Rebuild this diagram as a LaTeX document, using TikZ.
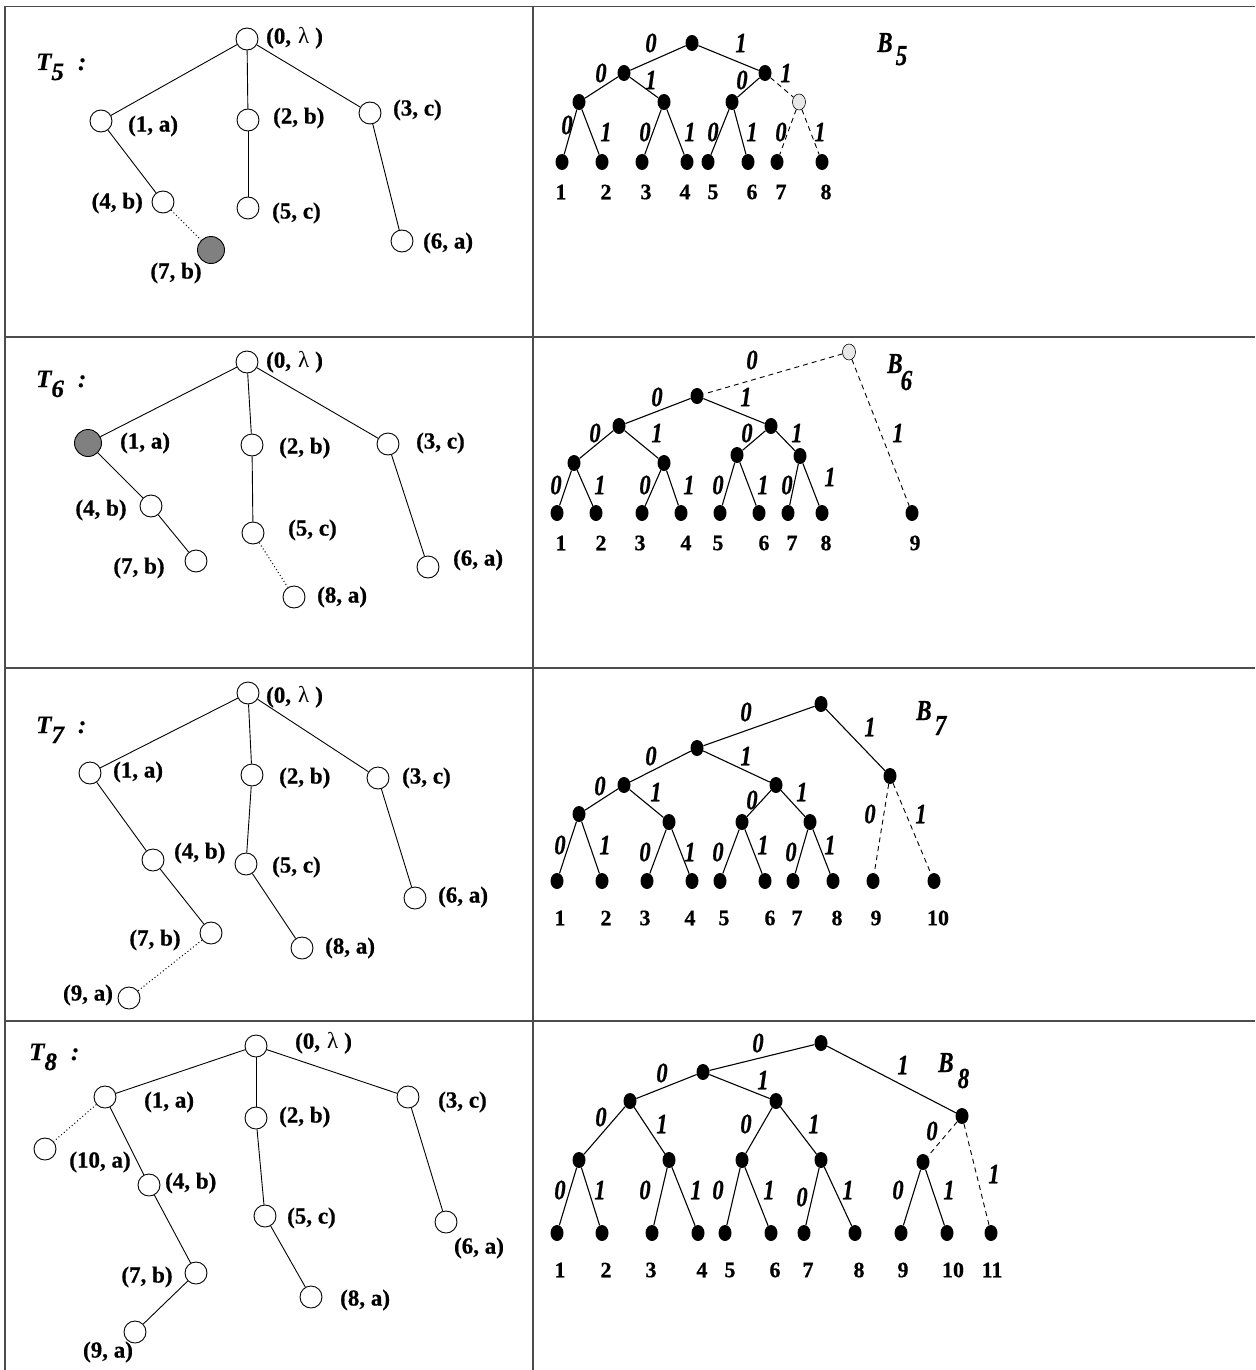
\documentclass[tikz,border=0pt]{standalone}
\usepackage{fontspec}
\setmainfont{Liberation Serif}
\newfontfamily\hvfont[FakeBold=0.6]{Liberation Serif}
\newfontfamily\chvfont[FakeBold=0.6,FakeStretch=0.8]{Liberation Serif}
\usetikzlibrary{shapes.geometric}
\newcommand{\nlabfont}{\hvfont\bfseries\fontsize{23}{26}\selectfont}
\newcommand{\llabfont}{\hvfont\bfseries\fontsize{22}{25}\selectfont}
\newcommand{\elabfont}{\chvfont\bfseries\itshape\fontsize{28}{31}\selectfont}
\newcommand{\tlabfont}{\hvfont\bfseries\itshape\fontsize{25}{29}\selectfont}
\newcommand{\blabfont}{\chvfont\bfseries\itshape\fontsize{29}{32}\selectfont}
\newcommand{\lam}{(0,\hspace{7pt}{\rmfamily\mdseries λ}\hspace{6pt})}
\tikzset{
  tn/.style={circle, draw, line width=0.9pt, minimum size=22pt, inner sep=0pt},
  tg/.style={tn, fill=black!50, minimum size=27pt},
  lab/.style={font=\nlabfont, inner sep=0pt},
  bn/.style={ellipse, fill=black, inner sep=0pt, minimum width=13pt, minimum height=16pt},
  gn/.style={bn, fill=gray!18, draw=black, line width=0.6pt},
  el/.style={font=\elabfont, inner sep=0pt},
  lf/.style={font=\llabfont, inner sep=0pt},
  tl/.style={font=\tlabfont, inner sep=0pt, anchor=base west},
  bl/.style={font=\blabfont, inner sep=0pt, anchor=base west},
  te/.style={line width=0.9pt},
  be/.style={line width=1.1pt},
  dsh/.style={line width=0.9pt, dash pattern=on 5pt off 4pt},
  dtd/.style={line width=1pt, dash pattern=on 1pt off 2.5pt},
  grid/.style={line width=1.6pt, draw=black!70}
}
\begin{document}
\begin{tikzpicture}[x=1pt,y=-1pt]
\useasboundingbox (0,0) rectangle (1255,1370);
% table
\draw[grid] (5,1370) -- (5,6.5) -- (1255,6.5);
\draw[grid] (533,6.5) -- (533,1370);
\draw[grid] (5,337) -- (1255,337);
\draw[grid] (5,668) -- (1255,668);
\draw[grid] (5,1021) -- (1255,1021);

% ================= T5 =================
\node[tl] (t5) at (36,70) {T\raisebox{-10pt}{5}\hspace{14pt}:};
\node[tn] (a0) at (247,39) {};
\node[tn] (a1) at (101,121) {};
\node[tn] (a2) at (248,120) {};
\node[tn] (a3) at (370,113) {};
\node[tn] (a4) at (163,202) {};
\node[tn] (a5) at (248,208) {};
\node[tn] (a6) at (402,241) {};
\node[tg] (a7) at (211,250) {};
\node[lab,anchor=west] (la0) at (266,38) {\lam};
\node[lab,anchor=west] (la1) at (128,126) {(1, a)};
\node[lab,anchor=west] (la2) at (273,118) {(2, b)};
\node[lab,anchor=west] (la3) at (393,110) {(3, c)};
\node[lab,anchor=east] (la4) at (143,203) {(4, b)};
\node[lab,anchor=west] (la5) at (272,213) {(5, c)};
\node[lab,anchor=west] (la6) at (423,243) {(6, a)};
\node[lab] (la7) at (176,273) {(7, b)};
\foreach \u/\v in {a0/a1,a0/a2,a0/a3,a1/a4,a2/a5,a3/a6} \draw[te] (\u) -- (\v);
\draw[dtd] (a4) -- (a7);

% ================= B5 =================
\node[bl] (b5) at (877,52) {B\kern3pt\raisebox{-13pt}{5}};
\node[bn] (p0) at (692,43) {};
\node[bn] (p1) at (624,73) {};
\node[bn] (p2) at (765,73) {};
\node[bn] (p3) at (579,102) {};
\node[bn] (p4) at (664,102) {};
\node[bn] (p5) at (732,102) {};
\node[gn] (p6) at (799,102) {};
\foreach \x [count=\i] in {562,602,642,687,708,748,777,822} \node[bn] (pl\i) at (\x,162) {};
\foreach \x [count=\i] in {561,606,646,685,713,752,781,826} \node[lf] (pn\i) at (\x,192) {\i};
\foreach \u/\v in {p0/p1,p0/p2,p1/p3,p1/p4,p2/p5,p3/pl1,p3/pl2,p4/pl3,p4/pl4,p5/pl5,p5/pl6} \draw[be] (\u) -- (\v);
\foreach \u/\v in {p2/p6,p6/pl7,p6/pl8} \draw[dsh] (\u) -- (\v);
\foreach \x/\y/\t [count=\i] in {651/43/0,741/43/1,601/73/0,651/80/1,742/80/0,786/73/1,567/125/0,606/132/1,645/132/0,690/132/1,713/132/0,752/132/1,781/132/0,820/132/1}
  \node[el] (pe\i) at (\x,\y) {\t};

% ================= T6 =================
\node[tl] (t6) at (36,387) {T\raisebox{-10pt}{6}\hspace{14pt}:};
\node[tn] (c0) at (247,362) {};
\node[tg] (c1) at (88,443) {};
\node[tn] (c2) at (252,445) {};
\node[tn] (c3) at (388,444) {};
\node[tn] (c4) at (151,506) {};
\node[tn] (c5) at (253,533) {};
\node[tn] (c6) at (428,567) {};
\node[tn] (c7) at (196,561) {};
\node[tn] (c8) at (294,597) {};
\node[lab,anchor=west] (lc0) at (266,362) {\lam};
\node[lab,anchor=west] (lc1) at (120,443) {(1, a)};
\node[lab,anchor=west] (lc2) at (279,448) {(2, b)};
\node[lab,anchor=west] (lc3) at (416,443) {(3, c)};
\node[lab] (lc4) at (101,510) {(4, b)};
\node[lab,anchor=west] (lc5) at (288,530) {(5, c)};
\node[lab,anchor=west] (lc6) at (453,560) {(6, a)};
\node[lab] (lc7) at (139,568) {(7, b)};
\node[lab,anchor=west] (lc8) at (317,597) {(8, a)};
\foreach \u/\v in {c0/c1,c0/c2,c0/c3,c1/c4,c4/c7,c2/c5,c3/c6} \draw[te] (\u) -- (\v);
\draw[dtd] (c5) -- (c8);

% ================= B6 =================
\node[bl] (b6) at (887,373) {B\kern-2pt\raisebox{-17pt}{6}};
\node[gn] (q0) at (849,352) {};
\node[bn] (q1) at (697,396) {};
\node[bn] (q2) at (619,426) {};
\node[bn] (q3) at (771,426) {};
\node[bn] (q4) at (574,463) {};
\node[bn] (q5) at (664,463) {};
\node[bn] (q6) at (737,455) {};
\node[bn] (q7) at (800,456) {};
\foreach \x [count=\i] in {557,596,642,681,720,759,788,822,912} \node[bn] (ql\i) at (\x,513) {};
\foreach \x [count=\i] in {561,601,640,686,718,764,792,826,915} \node[lf] (qn\i) at (\x,543) {\i};
\foreach \u/\v in {q1/q2,q1/q3,q2/q4,q2/q5,q3/q6,q3/q7,q4/ql1,q4/ql2,q5/ql3,q5/ql4,q6/ql5,q6/ql6,q7/ql7,q7/ql8} \draw[be] (\u) -- (\v);
\foreach \u/\v in {q0/q1,q0/ql9} \draw[dsh] (\u) -- (\v);
\foreach \x/\y/\t [count=\i] in {752/360/0,657/397/0,746/397/1,595/433/0,657/433/1,747/433/0,797/433/1,898/433/1,556/485/0,600/485/1,645/485/0,689/485/1,718/485/0,763/485/1,787/485/0,830/477/1}
  \node[el] (qe\i) at (\x,\y) {\t};

% ================= T7 =================
\node[tl] (t7) at (36,733) {T\raisebox{-10pt}{7}\hspace{14pt}:};
\node[tn] (e0) at (248,693) {};
\node[tn] (e1) at (90,773) {};
\node[tn] (e2) at (252,775) {};
\node[tn] (e3) at (378,778) {};
\node[tn] (e4) at (153,860) {};
\node[tn] (e5) at (246,864) {};
\node[tn] (e6) at (415,898) {};
\node[tn] (e7) at (211,933) {};
\node[tn] (e8) at (302,948) {};
\node[tn] (e9) at (129,998) {};
\node[lab,anchor=west] (le0) at (266,697) {\lam};
\node[lab,anchor=west] (le1) at (113,772) {(1, a)};
\node[lab,anchor=west] (le2) at (279,778) {(2, b)};
\node[lab,anchor=west] (le3) at (402,778) {(3, c)};
\node[lab,anchor=west] (le4) at (174,853) {(4, b)};
\node[lab,anchor=west] (le5) at (272,867) {(5, c)};
\node[lab,anchor=west] (le6) at (438,897) {(6, a)};
\node[lab] (le7) at (155,940) {(7, b)};
\node[lab,anchor=west] (le8) at (325,948) {(8, a)};
\node[lab] (le9) at (88,995) {(9, a)};
\foreach \u/\v in {e0/e1,e0/e2,e0/e3,e1/e4,e4/e7,e2/e5,e5/e8,e3/e6} \draw[te] (\u) -- (\v);
\draw[dtd] (e7) -- (e9);

% ================= B7 =================
\node[bl] (b7) at (916,720) {B\kern3pt\raisebox{-15pt}{7}};
\node[bn] (r0) at (821,704) {};
\node[bn] (r1) at (697,748) {};
\node[bn] (r2) at (890,776) {};
\node[bn] (r3) at (624,785) {};
\node[bn] (r4) at (776,785) {};
\node[bn] (r5) at (579,814) {};
\node[bn] (r6) at (669,822) {};
\node[bn] (r7) at (742,822) {};
\node[bn] (r8) at (810,822) {};
\foreach \x [count=\i] in {557,602,647,692,720,765,793,833,873,934} \node[bn] (rl\i) at (\x,881) {};
\foreach \x [count=\i] in {560,606,645,690,724,770,797,837,876,938} \node[lf] (rn\i) at (\x,918) {\i};
\foreach \u/\v in {r0/r1,r0/r2,r1/r3,r1/r4,r3/r5,r3/r6,r4/r7,r4/r8,r5/rl1,r5/rl2,r6/rl3,r6/rl4,r7/rl5,r7/rl6,r8/rl7,r8/rl8} \draw[be] (\u) -- (\v);
\foreach \u/\v in {r2/rl9,r2/rl10} \draw[dsh] (\u) -- (\v);
\foreach \x/\y/\t [count=\i] in {746/712/0,870/727/1,651/756/0,746/756/1,600/786/0,656/792/1,752/800/0,802/792/1,870/814/0,921/814/1,560/845/0,605/845/1,645/852/0,690/852/1,718/852/0,763/845/1,791/852/0,830/845/1}
  \node[el] (re\i) at (\x,\y) {\t};

% ================= T8 =================
\node[tl] (t8) at (29,1060) {T\raisebox{-10pt}{8}\hspace{14pt}:};
\node[tn] (g0) at (256,1046) {};
\node[tn] (g1) at (105,1097) {};
\node[tn] (g2) at (256,1118) {};
\node[tn] (g3) at (408,1097) {};
\node[tn] (g10) at (45,1149) {};
\node[tn] (g4) at (149,1185) {};
\node[tn] (g5) at (265,1216) {};
\node[tn] (g6) at (446,1222) {};
\node[tn] (g7) at (196,1273) {};
\node[tn] (g8) at (311,1297) {};
\node[tn] (g9) at (135,1332) {};
\node[lab,anchor=west] (lg0) at (295,1043) {\lam};
\node[lab,anchor=west] (lg1) at (144,1102) {(1, a)};
\node[lab,anchor=west] (lg2) at (279,1117) {(2, b)};
\node[lab,anchor=west] (lg3) at (438,1102) {(3, c)};
\node[lab] (lg10) at (100,1162) {(10, a)};
\node[lab,anchor=west] (lg4) at (165,1183) {(4, b)};
\node[lab,anchor=west] (lg5) at (287,1218) {(5, c)};
\node[lab] (lg6) at (479,1248) {(6, a)};
\node[lab] (lg7) at (147,1277) {(7, b)};
\node[lab,anchor=west] (lg8) at (340,1300) {(8, a)};
\node[lab] (lg9) at (108,1352) {(9, a)};
\foreach \u/\v in {g0/g1,g0/g2,g0/g3,g1/g4,g4/g7,g7/g9,g2/g5,g5/g8,g3/g6} \draw[te] (\u) -- (\v);
\draw[dtd] (g1) -- (g10);

% ================= B8 =================
\node[bl] (b8) at (938,1072) {B\kern4pt\raisebox{-16pt}{8}};
\node[bn] (s0) at (821,1043) {};
\node[bn] (s1) at (703,1072) {};
\node[bn] (s2) at (962,1116) {};
\node[bn] (s3) at (630,1101) {};
\node[bn] (s4) at (776,1101) {};
\node[bn] (s5) at (579,1160) {};
\node[bn] (s6) at (669,1160) {};
\node[bn] (s7) at (742,1160) {};
\node[bn] (s8) at (821,1160) {};
\node[bn] (s9) at (923,1162) {};
\foreach \x [count=\i] in {557,602,652,698,725,771,804,855,901,947,991} \node[bn] (sl\i) at (\x,1233) {};
\foreach \x [count=\i] in {560,606,651,702,730,775,808,859,903,953,992} \node[lf] (sn\i) at (\x,1270) {\i};
\foreach \u/\v in {s0/s1,s0/s2,s1/s3,s1/s4,s3/s5,s3/s6,s4/s7,s4/s8,s5/sl1,s5/sl2,s6/sl3,s6/sl4,s7/sl5,s7/sl6,s8/sl7,s8/sl8,s9/sl9,s9/sl10} \draw[be] (\u) -- (\v);
\foreach \u/\v in {s2/s9,s2/sl11} \draw[dsh] (\u) -- (\v);
\foreach \x/\y/\t [count=\i] in {758/1043/0,903/1065/1,662/1073/0,763/1080/1,601/1117/0,662/1124/1,746/1124/0,814/1124/1,932/1131/0,994/1174/1,560/1190/0,600/1190/1,645/1190/0,696/1190/1,718/1190/0,769/1190/1,802/1197/0,848/1190/1,898/1190/0,949/1190/1}
  \node[el] (se\i) at (\x,\y) {\t};
\end{tikzpicture}
\end{document}
